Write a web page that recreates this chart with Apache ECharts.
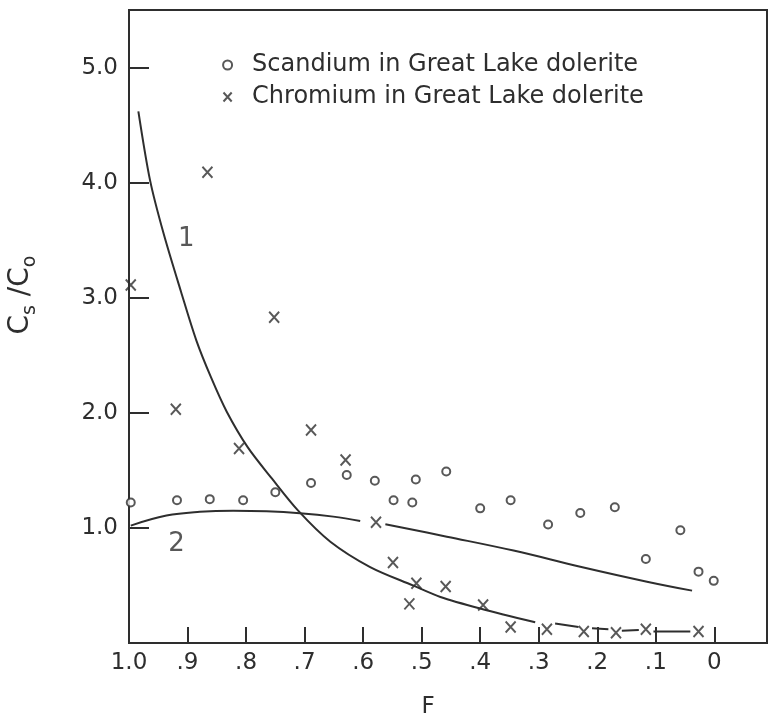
<!DOCTYPE html>
<html><head><meta charset="utf-8">
<script src="https://cdn.jsdelivr.net/npm/echarts@6/dist/echarts.min.js"></script>
<style>html,body{margin:0;padding:0;background:#fff}#c{width:769px;height:716px}</style>
</head><body><div id="c"></div>
<script>
// Scandium (open circles)
const scandiumF = [0.997, 0.918, 0.862, 0.805, 0.750, 0.689, 0.628, 0.580, 0.548, 0.516, 0.510, 0.458, 0.400, 0.348, 0.284, 0.229, 0.170, 0.117, 0.058, 0.027, 0.001];
const scandiumC = [1.22, 1.24, 1.25, 1.24, 1.31, 1.39, 1.46, 1.41, 1.24, 1.22, 1.42, 1.49, 1.17, 1.24, 1.03, 1.13, 1.18, 0.73, 0.98, 0.62, 0.54];
// Chromium (crosses)
const chromiumF = [0.997, 0.920, 0.866, 0.812, 0.752, 0.689, 0.630, 0.578, 0.549, 0.521, 0.509, 0.459, 0.395, 0.348, 0.286, 0.223, 0.168, 0.117, 0.027];
const chromiumC = [3.11, 2.03, 4.09, 1.69, 2.83, 1.85, 1.59, 1.05, 0.70, 0.34, 0.52, 0.49, 0.33, 0.14, 0.12, 0.10, 0.09, 0.12, 0.10];
// Curve 1 (null = break in the drawn line)
const curve1F = [0.984, 0.964, 0.941, 0.911, 0.885, 0.860, 0.833, 0.797, 0.756, 0.711, 0.656, 0.588, 0.515, 0.468, 0.400, 0.306, null, 0.272, 0.232, null, 0.209, 0.181, null, 0.158, 0.129, null, 0.104, 0.041];
const curve1C = [4.62, 4.02, 3.56, 3.05, 2.63, 2.31, 2.01, 1.70, 1.43, 1.15, 0.88, 0.66, 0.50, 0.40, 0.30, 0.18, null, 0.17, 0.14, null, 0.128, 0.12, null, 0.107, 0.113, null, 0.10, 0.10];
// Curve 2
const curve2F = [0.997, 0.936, 0.879, 0.822, 0.765, 0.708, 0.651, 0.605, null, 0.562, 0.457, 0.343, 0.229, 0.115, 0.038];
const curve2C = [1.02, 1.107, 1.14, 1.15, 1.145, 1.128, 1.098, 1.06, null, 1.032, 0.924, 0.803, 0.663, 0.533, 0.455];
// Curve labels
const curveLabels = ['1', '2'];
const curveLabelF = [0.902, 0.919];
const curveLabelC = [3.51, 0.86];
// Ticks
const xTicks = [0, 0.1, 0.2, 0.3, 0.4, 0.5, 0.6, 0.7, 0.8, 0.9, 1.0];
const yTicks = [1, 2, 3, 4, 5];
const seriesNames = ['Scandium in Great Lake dolerite', 'Chromium in Great Lake dolerite'];

const ink = '#2e2e2e';
const crossPath = 'path://M0,0L10,11M10,0L0,11';
const pairs = (a, b) => a.map((v, i) => v === null ? [null, null] : [v, b[i]]);
const fontFam = '"DejaVu Sans", sans-serif';

const chart = echarts.init(document.getElementById('c'), null, {renderer: 'canvas'});
chart.setOption({
  animation: false,
  backgroundColor: '#fff',
  textStyle: {fontFamily: fontFam, color: ink},
  grid: {left: 129, right: 2, top: 10, bottom: 73, show: true, borderColor: ink, borderWidth: 2, outerBoundsMode: 'none'},
  legend: {
    data: seriesNames, orient: 'vertical', left: 216, top: 48,
    itemWidth: 9, itemHeight: 9, itemGap: 8, selectedMode: false,
    textStyle: {fontSize: 24, color: ink, fontFamily: fontFam, lineHeight: 24, padding: [0, 0, 0, 15]}
  },
  xAxis: {
    type: 'value', inverse: true, min: -0.09, max: 1.0,
    name: 'F', nameLocation: 'middle', nameGap: 53,
    nameTextStyle: {fontSize: 23, color: ink, padding: [0, 40, 0, 0]},
    axisLine: {show: true, onZero: false, lineStyle: {color: ink, width: 2}},
    axisTick: {show: true, inside: true, length: 16, customValues: xTicks, lineStyle: {color: ink, width: 2}},
    axisLabel: {customValues: xTicks, fontSize: 23, color: ink, margin: 9,
      formatter: v => v >= 0.999 ? '1.0' : (v < 0.001 ? '0' : '.' + Math.round(v * 10))},
    splitLine: {show: false}
  },
  yAxis: {
    type: 'value', min: 0, max: 5.5,
    axisLine: {show: true, onZero: false, lineStyle: {color: ink, width: 2}},
    axisTick: {show: true, inside: true, length: 20, customValues: yTicks, lineStyle: {color: ink, width: 2}},
    axisLabel: {customValues: yTicks, fontSize: 23, color: ink, margin: 11, formatter: v => v.toFixed(1)},
    splitLine: {show: false}
  },
  graphic: [{
    type: 'text', x: 24, y: 295, rotation: Math.PI / 2,
    style: {
      text: '{c|C}{s|s}{c| /C}{s|o}', align: 'center', verticalAlign: 'middle', fill: ink,
      rich: {
        c: {fontSize: 28, fontFamily: fontFam, fill: ink, verticalAlign: 'top', lineHeight: 34},
        s: {fontSize: 19, fontFamily: fontFam, fill: ink, verticalAlign: 'top', lineHeight: 22, padding: [14, 0, 0, 0]}
      }
    }
  }],
  series: [
    {type: 'line', name: 'curve 1', data: pairs(curve1F, curve1C), showSymbol: false, smooth: 0.3,
     connectNulls: false, lineStyle: {color: ink, width: 2}, z: 2, silent: true},
    {type: 'line', name: 'curve 2', data: pairs(curve2F, curve2C), showSymbol: false, smooth: 0.4,
     connectNulls: false, lineStyle: {color: ink, width: 2}, z: 2, silent: true},
    {type: 'scatter', name: seriesNames[0], data: pairs(scandiumF, scandiumC), symbol: 'emptyCircle', symbolSize: 8,
     itemStyle: {color: ink, borderColor: ink, borderWidth: 1.6}, z: 3},
    {type: 'scatter', name: seriesNames[1], data: pairs(chromiumF, chromiumC), symbol: crossPath, symbolSize: [10, 11],
     itemStyle: {color: 'none', borderColor: ink, borderWidth: 2}, z: 3},
    {type: 'scatter', name: 'curve labels', data: curveLabelF.map((f, i) => ({value: [f, curveLabelC[i]], name: curveLabels[i]})),
     symbolSize: 1, itemStyle: {color: 'rgba(0,0,0,0)'}, silent: true,
     label: {show: true, position: 'inside', formatter: p => p.name, fontSize: 26, color: ink, fontFamily: fontFam}}
  ]
});
</script></body></html>
